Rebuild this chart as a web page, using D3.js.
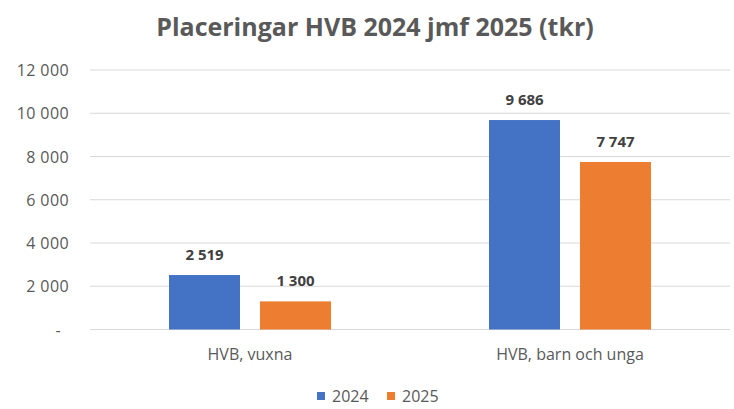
<!DOCTYPE html>
<html><head><meta charset="utf-8">
<script src="https://cdn.jsdelivr.net/npm/d3@7"></script>
<style>body{margin:0;background:#fff}svg{display:block}text{font-family:"Open Sans",sans-serif}</style>
</head><body><svg id="c" width="734" height="409"></svg>
<script>
const categories = ["HVB, vuxna", "HVB, barn och unga"];
const seriesNames = ["2024", "2025"];
const values2024 = [2519, 9686];
const values2025 = [1300, 7747];
const colors = ["#4472C4", "#ED7D31"];
const yTicks = [0, 2000, 4000, 6000, 8000, 10000, 12000];
const title = "Placeringar HVB 2024 jmf 2025 (tkr)";

(function(){
const svg = d3.select("#c");
const pLeft = 90, pRight = 730, pTop = 70, pBottom = 329.5;

const fmt = v => v === 0 ? "-" : d3.format(",")(v).replace(/,/g, " ");

const x = d3.scaleBand().domain(categories).range([pLeft, pRight]).paddingInner(0).paddingOuter(0);
const x1 = d3.scaleBand().domain(seriesNames).range([-81, 81]).paddingInner(20/91).paddingOuter(0);
const y = d3.scaleLinear().domain([0, 12000]).range([pBottom, pTop]);

svg.append("g").selectAll("line").data(yTicks).join("line")
  .attr("x1", pLeft).attr("x2", pRight)
  .attr("y1", d => y(d)).attr("y2", d => y(d))
  .attr("stroke", "#D9D9D9").attr("stroke-width", 1);

const yAxis = d3.axisLeft(y).tickValues(yTicks).tickFormat(fmt).tickSize(0).tickPadding(0);
const ga = svg.append("g").attr("transform", `translate(69,0)`).call(yAxis);
ga.select(".domain").remove();
ga.selectAll("text").attr("fill", "#595959").style("font-size", "16px").style("letter-spacing", "0.4px")
  .style("font-family", "'Open Sans',sans-serif").attr("dy", "0.35em")
  .attr("dx", d => d === 0 ? -8 : 0);

const series = [values2024, values2025];
const groups = svg.append("g").selectAll("g").data(categories).join("g")
  .attr("transform", d => `translate(${x(d) + x.bandwidth()/2},0)`);
groups.selectAll("rect").data((d, i) => seriesNames.map((s, j) => ({s, v: series[j][i], j}))).join("rect")
  .attr("x", d => x1(d.s)).attr("width", x1.bandwidth())
  .attr("y", d => y(d.v)).attr("height", d => y(0) - y(d.v))
  .attr("fill", d => colors[d.j]);
groups.selectAll("text.lbl").data((d, i) => seriesNames.map((s, j) => ({s, v: series[j][i], j}))).join("text")
  .attr("class", "lbl")
  .attr("x", d => x1(d.s) + x1.bandwidth()/2).attr("y", d => y(d.v) - 15)
  .attr("text-anchor", "middle").attr("fill", "#404040")
  .style("font-size", "15px").style("font-weight", "bold")
  .text(d => fmt(d.v));

svg.append("g").selectAll("text").data(categories).join("text")
  .attr("x", d => x(d) + x.bandwidth()/2).attr("y", 360)
  .attr("text-anchor", "middle").attr("fill", "#595959").style("font-size", "16px")
  .text(d => d);

svg.append("text").attr("x", 375).attr("y", 36).attr("text-anchor", "middle")
  .attr("fill", "#595959").style("font-size", "25px").style("font-weight", "bold")
  .text(title);

const lg = svg.append("g");
const legX = [317, 387];
seriesNames.forEach((s, i) => {
  lg.append("rect").attr("x", legX[i]).attr("y", 392).attr("width", 8).attr("height", 8).attr("fill", colors[i]);
  lg.append("text").attr("x", legX[i] + 15).attr("y", 402).attr("fill", "#595959").style("font-size", "16px").text(s);
});
})();
</script></body></html>
